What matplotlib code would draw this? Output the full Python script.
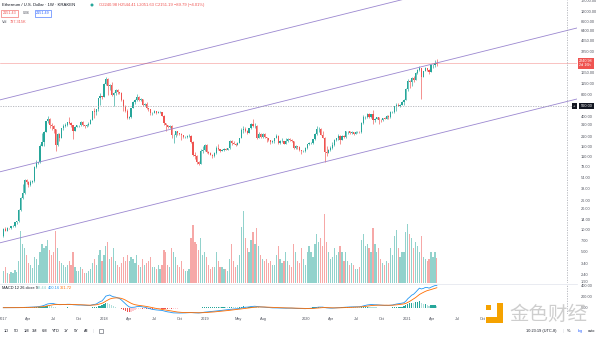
import numpy as np
import pandas as pd
import matplotlib
matplotlib.use("Agg")
import matplotlib.pyplot as plt
import matplotlib.dates as mdates
import matplotlib.patches as mpatches
from matplotlib.lines import Line2D
from matplotlib.transforms import blended_transform_factory

plt.rcParams['font.family'] = ['Liberation Sans', 'DejaVu Sans']

# Kraken ETH/USD weekly candles, weeks start on Monday 2017-01-02
first_week = '2017-01-02'
first_open = 8.2   # each later week opens at the previous close

closes_2017 = [10.2, 9.8, 10.6, 10.5, 11.4, 11.4, 12.8, 13.2, 19.1, 28.6,
               33, 50, 48, 43, 48, 49, 77, 88, 90, 153,
               176, 242, 340, 360, 300, 290, 264, 155, 228, 200,
               270, 296, 300, 330, 320, 300, 250, 283, 300, 300,
               335, 300, 294, 297, 315, 355, 470, 460, 500, 720,
               760, 755]
highs_2017 = [10.5, 11, 11, 10.8, 11.5, 11.6, 13, 13.4, 19.5, 29,
              44, 53, 53, 49, 50, 50, 80, 96, 92, 160,
              230, 250, 345, 400, 380, 325, 300, 265, 235, 230,
              275, 310, 325, 335, 395, 335, 305, 290, 305, 305,
              345, 340, 305, 310, 330, 360, 480, 520, 500, 730,
              860, 780]
lows_2017 = [8, 9.6, 9.7, 10.3, 10.4, 10.9, 11.2, 12.2, 13, 18.8,
             27, 32, 45, 40, 42, 46, 48, 74, 84, 87,
             150, 150, 240, 320, 270, 260, 230, 130, 150, 180,
             195, 255, 280, 295, 315, 280, 190, 245, 280, 285,
             295, 290, 275, 285, 290, 310, 350, 380, 420, 480,
             580, 690]

closes_2018 = [1150, 1360, 1050, 1110, 790, 860, 940, 870, 860, 680,
               540, 470, 380, 390, 530, 640, 670, 750, 680, 700,
               570, 600, 520, 500, 450, 450, 470, 450, 460, 460,
               405, 320, 300, 280, 295, 215, 220, 245, 230, 225,
               215, 205, 205, 210, 210, 175, 115, 110, 90, 85,
               130, 135, 155]
highs_2018 = [1160, 1420, 1380, 1130, 1200, 880, 960, 980, 890, 870,
              700, 580, 500, 400, 530, 650, 710, 830, 770, 720,
              710, 620, 625, 530, 510, 460, 495, 480, 480, 480,
              465, 410, 320, 300, 300, 300, 225, 250, 250, 235,
              230, 215, 210, 215, 225, 215, 180, 125, 115, 95,
              140, 150, 160]
lows_2018 = [740, 1100, 800, 950, 780, 560, 800, 810, 810, 650,
             480, 460, 370, 360, 380, 520, 600, 660, 660, 650,
             560, 550, 510, 470, 410, 420, 445, 430, 445, 450,
             400, 300, 250, 270, 275, 200, 170, 205, 220, 215,
             185, 200, 195, 195, 205, 170, 110, 100, 85, 82,
             85, 120, 130]

closes_2019 = [125, 120, 115, 110, 120, 145, 137, 130, 134, 138,
               136, 141, 180, 166, 165, 157, 170, 196, 260, 268,
               250, 230, 270, 310, 290, 290, 200, 225, 205, 225,
               205, 195, 185, 172, 180, 200, 213, 170, 180, 180,
               165, 180, 190, 187, 180, 145, 150, 148, 133, 128,
               130, 144]
highs_2019 = [160, 130, 125, 118, 125, 150, 165, 140, 140, 143,
              144, 143, 185, 185, 178, 166, 172, 200, 275, 290,
              285, 255, 275, 320, 365, 320, 300, 240, 230, 235,
              230, 205, 200, 185, 185, 200, 225, 215, 185, 195,
              182, 195, 195, 195, 190, 180, 155, 152, 150, 135,
              134, 146]
lows_2019 = [120, 117, 113, 103, 105, 118, 135, 127, 128, 130,
             132, 134, 140, 155, 160, 150, 155, 168, 195, 230,
             240, 225, 230, 265, 280, 270, 190, 195, 200, 200,
             195, 175, 180, 165, 170, 170, 195, 160, 165, 175,
             160, 160, 175, 180, 175, 140, 140, 140, 130, 116,
             125, 125]

closes_2020 = [163, 170, 170, 190, 225, 265, 265, 218, 200, 124,
               122, 132, 145, 157, 186, 197, 210, 188, 213, 205,
               245, 245, 233, 242, 228, 240, 240, 238, 320, 385,
               395, 430, 395, 430, 350, 365, 385, 355, 350, 375,
               365, 405, 385, 455, 460, 550, 575, 565, 585, 640,
               685, 975]
highs_2020 = [165, 175, 175, 190, 230, 290, 285, 275, 250, 205,
              150, 140, 150, 175, 190, 200, 225, 215, 215, 215,
              250, 250, 250, 245, 243, 245, 250, 245, 330, 415,
              400, 440, 440, 430, 490, 380, 395, 390, 370, 380,
              395, 420, 415, 470, 475, 560, 620, 620, 595, 660,
              690, 1000]
lows_2020 = [140, 158, 160, 165, 185, 220, 240, 215, 195, 90,
             110, 120, 130, 140, 150, 180, 185, 165, 185, 195,
             200, 228, 225, 225, 220, 225, 235, 230, 235, 310,
             360, 380, 375, 380, 310, 330, 360, 310, 335, 340,
             360, 360, 370, 380, 440, 450, 480, 560, 535, 580,
             570, 685]

closes_2021 = [1255, 1230, 1390, 1310, 1600, 1780, 1935, 1420, 1720, 1920,
               1790, 1690, 2080, 2140, 2240.98, 2151.19]
highs_2021 = [1350, 1290, 1440, 1480, 1700, 1870, 2040, 1940, 1740, 1945,
              1940, 1830, 2150, 2200, 2490, 2544.41]
lows_2021 = [900, 1000, 1050, 1220, 1300, 1560, 1735, 700, 1410, 1710,
             1720, 1560, 1680, 1940, 2000, 2051.63]

# weekly volume, thousand ETH
volumes_k = [360, 480, 300, 270, 330, 300, 390, 330, 660, 1530, 1140, 1020, 840,
             600, 540, 450, 780, 720, 540, 900, 1140, 1020, 1080, 1260, 960, 840,
             900, 1530, 1020, 660, 600, 540, 480, 540, 660, 540, 900, 480, 360,
             360, 480, 420, 300, 300, 360, 420, 600, 720, 540, 840, 960, 660,
             # 2018
             840, 1080, 1200, 720, 780, 1020, 660, 540, 480, 600, 780, 660, 840,
             660, 780, 720, 600, 840, 540, 480, 720, 540, 600, 660, 780, 480,
             480, 420, 540, 420, 540, 960, 900, 540, 480, 1020, 900, 780, 540,
             480, 660, 420, 360, 360, 420, 1320, 1710, 1200, 1140, 960, 1320, 840, 900,
             # 2019
             780, 540, 420, 480, 480, 900, 660, 480, 480, 420, 420, 360, 720,
             1140, 660, 480, 540, 840, 1650, 2130, 1320, 1020, 900, 1260, 1500, 1140,
             1620, 1080, 840, 720, 660, 720, 600, 660, 540, 540, 840, 1080, 720,
             600, 660, 900, 660, 540, 480, 1140, 900, 660, 600, 1020, 720, 540,
             # 2020
             900, 1080, 900, 780, 1140, 1440, 1200, 1320, 1080, 2040, 1200, 900, 720,
             780, 1020, 840, 900, 1080, 900, 660, 900, 660, 540, 600, 540, 420,
             420, 480, 1260, 1440, 1080, 1140, 1020, 900, 1620, 1140, 900, 1020, 720,
             600, 540, 660, 600, 1020, 840, 1380, 1560, 1020, 780, 900, 900, 1500,
             # 2021
             1740, 1440, 1320, 1020, 1200, 1080, 900, 1380, 780, 720, 660, 720, 900,
             780, 900, 737.315]

price_ticks = [1.9, 2.4, 3.4, 5, 7, 10, 14, 20, 26, 38, 54, 78, 110, 150, 210,
               310, 400, 800, 1150, 1650, 3250, 4650, 6400, 8600, 12000, 17000]
macd_ticks = [0, 200, 400]
time_ticks = ['2017-01-01', '2017-04-01', '2017-07-01', '2017-10-01', '2018-01-01',
              '2018-04-01', '2018-07-01', '2018-10-01', '2019-01-01', '2019-05-01',
              '2019-08-01', '2020-01-01', '2020-04-01', '2020-07-01', '2020-10-01',
              '2021-01-01', '2021-04-01', '2021-07-01', '2021-10-01']
time_labels = ['2017', 'Apr', 'Jul', 'Oct', '2018', 'Apr', 'Jul', 'Oct', '2019', 'May',
               'Aug', '2020', 'Apr', 'Jul', 'Oct', '2021', 'Apr', 'Jul', 'Oct']

channel_dates = ['2016-12-21', '2022-09-08']
channel_upper = [680, 72000]
channel_mid = [66, 7000]
channel_lower = [6.6, 700]

last_price = 2240.98
cross_price = 560
cross_date = '2022-08-02'

UP, DOWN = '#26a69a', '#ef5350'
GRID_TXT = '#50535e'

closes = np.array(closes_2017 + closes_2018 + closes_2019 + closes_2020 + closes_2021)
highs = np.array(highs_2017 + highs_2018 + highs_2019 + highs_2020 + highs_2021)
lows = np.array(lows_2017 + lows_2018 + lows_2019 + lows_2020 + lows_2021)
opens = np.concatenate([[first_open], closes[:-1]])
volumes = np.array(volumes_k)

weeks = pd.date_range(first_week, periods=len(closes), freq='7D')
x = mdates.date2num(weeks)
up = closes >= opens
colors = np.where(up, UP, DOWN)

# MACD 12 26 9
s = pd.Series(closes)
macd = s.ewm(span=12, adjust=False).mean() - s.ewm(span=26, adjust=False).mean()
signal = macd.ewm(span=9, adjust=False).mean()
hist = (macd - signal).values
prev = np.concatenate([[0], hist[:-1]])
hist_colors = np.where(hist >= 0, np.where(hist > prev, '#26a69a', '#b2dfdb'),
                       np.where(hist > prev, '#ffcdd2', '#ef5350'))

W, H = 600, 337
fig = plt.figure(figsize=(W / 100, H / 100), dpi=100)


def rect(x0, y0, x1, y1):
    return [x0 / W, 1 - y1 / H, (x1 - x0) / W, (y1 - y0) / H]


ax_vol = fig.add_axes(rect(0, 0, 577, 283))
ax = fig.add_axes(rect(0, 0, 577, 283), sharex=ax_vol)
ax_macd = fig.add_axes(rect(0, 284, 577, 314), sharex=ax_vol)
ax.patch.set_visible(False)

xmin = mdates.date2num(pd.Timestamp('2016-12-21'))
xmax = mdates.date2num(pd.Timestamp('2022-09-08'))
ax_vol.set_xlim(xmin, xmax)

# volume overlay
ax_vol.bar(x, volumes, width=4.4, color=colors, alpha=0.5, linewidth=0)
ax_vol.set_ylim(0, 737.315 * 283 / 25)
ax_vol.axis('off')

# candles
ax.vlines(x, lows, highs, colors=colors, linewidth=0.45)
ax.bar(x, np.abs(closes - opens), bottom=np.minimum(opens, closes), width=4.4,
       color=colors, linewidth=0)
ax.set_yscale('log')
ax.set_ylim(1.793, 17340)

# channel
cd = mdates.date2num(pd.to_datetime(channel_dates))
for vals in (channel_upper, channel_mid, channel_lower):
    ax.plot(cd, vals, color='#9b87d0', linewidth=0.6)

ax.axhline(last_price, color='#ef5350', linewidth=0.45, alpha=0.55)
cross_x = mdates.date2num(pd.Timestamp(cross_date))
dash = (0, (2, 2))
ax.axhline(cross_price, color='#9598a1', linewidth=0.45, linestyle=dash)
ax.axvline(cross_x, color='#9598a1', linewidth=0.45, linestyle=dash)
ax_macd.axvline(cross_x, color='#9598a1', linewidth=0.45, linestyle=dash)

ax.yaxis.tick_right()
ax.set_yticks(price_ticks)
ax.set_yticklabels([f'{v:.2f}' for v in price_ticks])
ax.yaxis.set_minor_locator(matplotlib.ticker.NullLocator())
ax.tick_params(axis='y', length=0, pad=3, labelsize=2.8, colors=GRID_TXT)
ax.tick_params(axis='x', bottom=False, labelbottom=False)
for sp in ax.spines.values():
    sp.set_visible(False)

tr = blended_transform_factory(ax.transAxes, ax.transData)
ax.text(1.004, last_price, '2240.98\n2d 16h', transform=tr, fontsize=2.7, color='white',
        va='center', ha='left', linespacing=1.15, clip_on=False, zorder=10,
        bbox=dict(boxstyle='square,pad=0.35', fc='#ef5350', ec='none'))
ax.text(1.006, cross_price, '560.00', transform=tr, fontsize=2.8, color='white',
        va='center', ha='left', clip_on=False, zorder=10,
        bbox=dict(boxstyle='square,pad=0.35', fc='#131722', ec='none'))
ax.text(0.9955, cross_price, '+', transform=tr, fontsize=2.8, color='white',
        va='center', ha='center', clip_on=False, zorder=10,
        bbox=dict(boxstyle='square,pad=0.3', fc='#131722', ec='none'))

# MACD pane
ax_macd.bar(x, hist, width=4.4, color=hist_colors, linewidth=0)
ax_macd.plot(x, macd, color='#2196f3', linewidth=0.6)
ax_macd.plot(x, signal, color='#ff6d00', linewidth=0.6)
ax_macd.set_ylim(-115, 431)
ax_macd.yaxis.tick_right()
ax_macd.set_yticks(macd_ticks)
ax_macd.set_yticklabels([f'{v:.2f}' for v in macd_ticks])
ax_macd.set_xticks(mdates.date2num(pd.to_datetime(time_ticks)))
ax_macd.set_xticklabels(time_labels)
ax_macd.tick_params(axis='y', length=0, pad=3, labelsize=2.8, colors=GRID_TXT)
ax_macd.tick_params(axis='x', length=0, pad=2.4, labelsize=2.8, colors=GRID_TXT)
for sp in ax_macd.spines.values():
    sp.set_visible(False)

fig.add_artist(Line2D([0, 577 / W], [1 - 283.5 / H] * 2, color='#e0e3eb', linewidth=0.5))

# overlay for header, toolbar and watermark (pixel coords)
ov = fig.add_axes([0, 0, 1, 1], zorder=5)
ov.set_xlim(0, W)
ov.set_ylim(H, 0)
ov.axis('off')
ov.patch.set_alpha(0)

ov.text(2, 5, 'Ethereum / U.S. Dollar · 1W · KRAKEN', fontsize=3.1, color='#131722', va='center')
ov.add_patch(mpatches.Circle((92, 5), 1.5, fc='#26a69a', ec='none'))
ov.text(99, 5, 'O2240.98 H2544.41 L2051.63 C2151.19 −89.79 (−4.01%)', fontsize=3.0,
        color='#ef5350', va='center')
ov.text(9.5, 13.5, '2151.43', fontsize=2.7, color='#ef5350', va='center', ha='center',
        bbox=dict(boxstyle='square,pad=0.4', fc='white', ec='#ef5350', lw=0.4))
ov.text(26, 13.5, '0.06', fontsize=2.6, color=GRID_TXT, va='center', ha='center')
ov.text(43, 13.5, '2151.49', fontsize=2.7, color='#2962ff', va='center', ha='center',
        bbox=dict(boxstyle='square,pad=0.4', fc='white', ec='#2962ff', lw=0.4))
ov.text(2, 22, 'Vol', fontsize=2.8, color=GRID_TXT, va='center')
ov.text(9.5, 22, '737.315K', fontsize=2.8, color='#ef5350', va='center')

ov.text(2, 288, 'MACD 12 26 close 9', fontsize=2.8, color='#131722', va='center')
ov.text(37, 288, '38.44', fontsize=2.8, color='#80cbc4', va='center')
ov.text(48, 288, '400.16', fontsize=2.8, color='#2196f3', va='center')
ov.text(60, 288, '361.72', fontsize=2.8, color='#ff6d00', va='center')

for lbl, px in zip(['1D', '5D', '1M', '3M', '6M', 'YTD', '1Y', '5Y', 'All'],
                   [6, 16, 26, 35, 45, 56, 66, 76, 86]):
    ov.text(px, 331, lbl, fontsize=2.8, color='#131722', va='center', ha='center')
ov.text(93, 331, '|', fontsize=3.2, color='#d1d4dc', va='center', ha='center')
ov.add_patch(mpatches.Rectangle((98.5, 328.5), 4, 4, fc='none', ec=GRID_TXT, lw=0.4))
ov.text(541, 331, '10:23:19 (UTC-8)', fontsize=2.8, color='#131722', va='center', ha='center')
ov.text(563, 331, '|', fontsize=3.2, color='#d1d4dc', va='center', ha='center')
ov.text(569, 331, '%', fontsize=2.8, color='#131722', va='center', ha='center')
ov.text(580, 331, 'log', fontsize=2.8, color='#2962ff', va='center', ha='center')
ov.text(591, 331, 'auto', fontsize=2.8, color='#131722', va='center', ha='center')

# watermark
orange = '#f5a200'
ov.add_patch(mpatches.Rectangle((486, 305), 5, 5, fc=orange, ec='none'))
ov.add_patch(mpatches.Rectangle((497, 303), 6, 20, fc=orange, ec='none'))
ov.add_patch(mpatches.Rectangle((486, 317), 14, 6, fc=orange, ec='none'))
ov.text(548, 314, '金色财经', fontsize=14, color='#c9c9c9', va='center', ha='center',
        family=['Noto Sans CJK SC', 'DejaVu Sans'], alpha=0.9)

fig.savefig('out.png', dpi=100, facecolor='white')
